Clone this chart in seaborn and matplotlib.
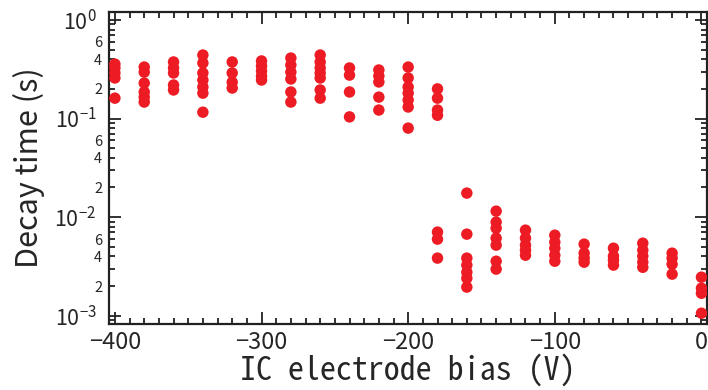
import matplotlib
matplotlib.use("Agg")
import matplotlib.pyplot as plt
import matplotlib.ticker as mticker
import numpy as np
import pandas as pd
import seaborn as sns

# Decay time measured at each IC electrode bias setting
bias_v = (
    [-400] * 5 + [-380] * 6 + [-360] * 5 + [-340] * 7 + [-320] * 4
    + [-300] * 5 + [-280] * 6 + [-260] * 7 + [-240] * 4 + [-220] * 5
    + [-200] * 7 + [-180] * 7 + [-160] * 7 + [-140] * 7 + [-120] * 5
    + [-100] * 5 + [-80] * 4 + [-60] * 4 + [-40] * 5 + [-20] * 4 + [0] * 4
)
decay_s = [
    0.357, 0.326, 0.29, 0.258, 0.161,                      # -400 V
    0.333, 0.296, 0.229, 0.186, 0.165, 0.147,              # -380 V
    0.375, 0.326, 0.29, 0.219, 0.195,                      # -360 V
    0.441, 0.366, 0.29, 0.246, 0.209, 0.181, 0.116,        # -340 V
    0.375, 0.29, 0.234, 0.204,                             # -320 V
    0.384, 0.341, 0.304, 0.27, 0.246,                      # -300 V
    0.411, 0.349, 0.296, 0.252, 0.186, 0.147,              # -280 V
    0.441, 0.375, 0.326, 0.29, 0.258, 0.195, 0.161,        # -260 V
    0.326, 0.276, 0.186, 0.104,                            # -240 V
    0.311, 0.27, 0.235, 0.165, 0.122,                      # -220 V
    0.333, 0.258, 0.209, 0.181, 0.154, 0.131, 0.080,       # -200 V
    0.2, 0.161, 0.122, 0.108, 0.00705, 0.00598, 0.00384,   # -180 V
    0.01753, 0.00672, 0.00384, 0.00326, 0.00276, 0.0024, 0.00195,  # -160 V
    0.0115, 0.0089, 0.00773, 0.00612, 0.0052, 0.00357, 0.00297,    # -140 V
    0.00738, 0.00612, 0.0052, 0.00462, 0.00411,            # -120 V
    0.00656, 0.00557, 0.00484, 0.00411, 0.00357,           # -100 V
    0.00532, 0.00431, 0.00384, 0.00349,                    # -80 V
    0.00484, 0.00402, 0.00366, 0.00326,                    # -60 V
    0.00544, 0.00462, 0.00402, 0.00349, 0.0031,            # -40 V
    0.00431, 0.00384, 0.00333, 0.00264,                    # -20 V
    0.00246, 0.0019, 0.00169, 0.00106,                     # 0 V
]

x_ticks = [-400, -300, -200, -100, 0]

df = pd.DataFrame({"bias": bias_v, "decay": decay_s})

sns.set_style("ticks")
plt.rcParams["font.family"] = ["Noto Sans CJK JP", "DejaVu Sans"]
plt.rcParams["mathtext.fontset"] = "custom"
plt.rcParams["mathtext.rm"] = "Noto Sans CJK JP"
plt.rcParams["axes.unicode_minus"] = True

fig = plt.figure(figsize=(7.08, 3.90), dpi=100)
ax = fig.add_axes([0.154, 0.169, 0.844, 0.800])

sns.scatterplot(data=df, x="bias", y="decay", ax=ax, s=68,
                color="#ED1C24", edgecolor="none", linewidth=0, zorder=3)

ax.set_yscale("log")
ax.set_xlim(-404, 3.5)
ax.set_ylim(10 ** -3.085, 10 ** 0.08)

ax.xaxis.set_major_locator(mticker.FixedLocator(x_ticks))
ax.xaxis.set_minor_locator(mticker.MultipleLocator(10))
ax.xaxis.set_major_formatter(mticker.FuncFormatter(
    lambda v, p: f"\u2212{abs(int(v))}" if v < 0 else f"{int(v)}"))

ax.yaxis.set_major_locator(mticker.LogLocator(base=10, numticks=10))
ax.yaxis.set_minor_locator(mticker.LogLocator(base=10, subs=np.arange(2, 10), numticks=20))


def major_fmt(v, pos):
    e = int(round(np.log10(v)))
    return r"$\mathregular{10^{%s}}$" % (f"\u2212{abs(e)}" if e < 0 else str(e))


def minor_fmt(v, pos):
    m = v / 10 ** np.floor(np.log10(v) + 1e-9)
    m = int(round(m))
    return str(m) if m in (2, 4, 6) else ""


ax.yaxis.set_major_formatter(mticker.FuncFormatter(major_fmt))
ax.yaxis.set_minor_formatter(mticker.FuncFormatter(minor_fmt))

for side in ["left", "right", "top", "bottom"]:
    ax.spines[side].set_visible(True)
    ax.spines[side].set_linewidth(1.6)
    ax.spines[side].set_color("#222222")

ax.tick_params(which="both", direction="in", top=True, right=True,
               color="#222222", width=1.3)
ax.tick_params(which="major", length=8.5)
ax.tick_params(which="minor", length=4.5)
ax.tick_params(axis="x", which="major", labelsize=17, pad=5)
ax.tick_params(axis="y", which="major", labelsize=15.5, pad=9)
ax.tick_params(axis="y", which="minor", labelsize=10.5, pad=5)

ax.set_xlabel("IC electrode bias (V)", fontsize=23, labelpad=0,
              family=["Noto Sans Mono CJK JP", "Noto Sans CJK JP", "DejaVu Sans"])
ax.set_ylabel("Decay time (s)", fontsize=22, labelpad=7)

fig.savefig("out.png", dpi=100, facecolor="white")
